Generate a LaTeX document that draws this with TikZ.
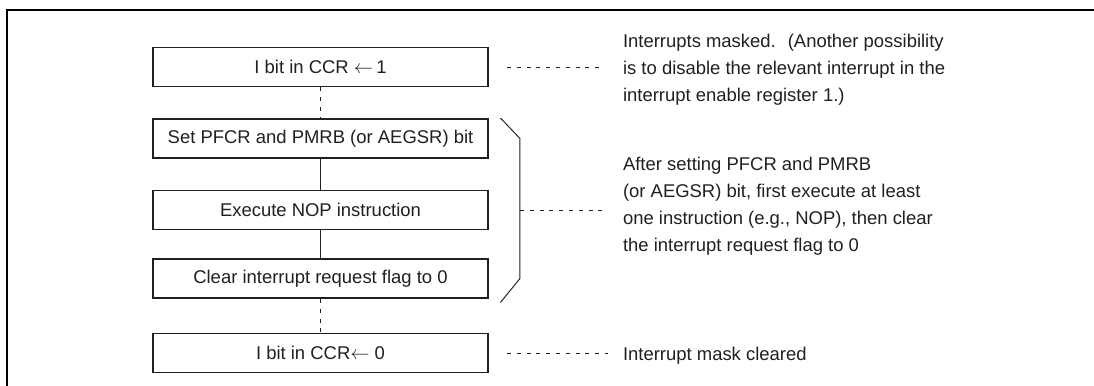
\documentclass[tikz,border=0pt]{standalone}
\usepackage{fontspec}
\setmainfont{Liberation Sans}
\usetikzlibrary{positioning}
\definecolor{NoteInk}{HTML}{231F20}

\begin{document}
\begin{tikzpicture}[
  stepbox/.style={draw=NoteInk,line width=1.1pt,fill=white,minimum width=6.70cm,minimum height=0.78cm,inner sep=0pt,font=\fontsize{10.5}{15.4}\selectfont,text=NoteInk},
  note/.style={anchor=west,align=left,inner sep=0pt,font=\fontsize{10.5}{15.4}\selectfont,text=NoteInk},
  link/.style={draw=NoteInk,line width=0.55pt},
  leader/.style={draw=NoteInk,line width=0.5pt,dash pattern=on 0.08cm off 0.116cm},
  frame/.style={draw=black,line width=1.2pt}
]
\useasboundingbox (0,0) rectangle (21.88,-7.72);
\clip (0,0) rectangle (21.88,-7.72);
\draw[frame] (22.5,-0.2) -| (0.134,-8.5);

% flow steps
\node[stepbox] (mask) at (6.41,-1.34) {I bit in CCR $\leftarrow$\,1};
\node[stepbox] (pfcr) at (6.41,-2.77) {Set PFCR and PMRB (or AEGSR) bit};
\node[stepbox] (nop) at (6.41,-4.20) {Execute NOP instruction};
\node[stepbox] (flag) at (6.41,-5.57) {Clear interrupt request flag to 0};
\node[stepbox] (unmask) at (6.41,-7.06) {I bit in CCR$\leftarrow$ 0};

\draw[leader] (mask) -- (pfcr);
\draw[link] (pfcr) -- (nop);
\draw[link] (nop) -- (flag);
\draw[leader] (flag) -- (unmask);

% bracket round the three middle steps
\draw[link] ([xshift=0.23cm]pfcr.north east) -- ([xshift=0.62cm]pfcr.east)
  -- ([xshift=0.62cm]flag.east) -- ([xshift=0.23cm,yshift=-0.07cm]flag.south east);
\coordinate (brace) at ([xshift=0.62cm]nop.east);

% notes
\node[note] (masknote) at (12.454,-1.40) {Interrupts masked.~ (Another possibility\\
  is to disable the relevant interrupt in the\\
  interrupt enable register 1.)};
\node[note] (flagnote) at (12.454,-4.12) {After setting PFCR and PMRB\\
  (or AEGSR) bit, first execute at least\\
  one instruction (e.g., NOP), then clear\\
  the interrupt request flag to 0};
\node[note] (clearnote) at (12.454,-7.12) {Interrupt mask cleared};

\draw[leader] ([xshift=0.36cm]mask.east) -- ([xshift=-0.37cm]mask.east -| masknote.west);
\draw[leader] (brace) -- ([xshift=-0.3cm]brace -| flagnote.west);
\draw[leader] ([xshift=0.36cm]unmask.east) -- ([xshift=-0.3cm]unmask.east -| clearnote.west);
\end{tikzpicture}
\end{document}
